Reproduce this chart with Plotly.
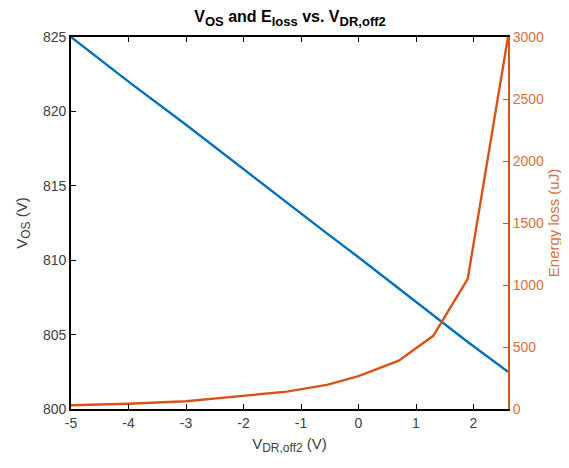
import plotly.graph_objects as go

# Data
v_dr = [-5, -4, -3, -2, -1.25, -0.55, 0.0, 0.7, 1.3, 1.9, 2.6]
v_os = [825.0, 822.0, 819.1, 816.1, 813.9, 811.8, 810.2, 808.1, 806.3, 804.5, 802.5]
e_loss = [30, 42, 62, 105, 140, 195, 265, 390, 590, 1050, 3000]

x_ticks = [-5, -4, -3, -2, -1, 0, 1, 2]
x_tick_labels = ["-5", "-4", "-3", "-2", "-1", "0", "1", "2"]
y1_ticks = [800, 805, 810, 815, 820, 825]
y2_ticks = [0, 500, 1000, 1500, 2000, 2500, 3000]

BLUE = "#0072BD"
ORANGE = "#D95319"
ORANGE_TXT = "#D9703F"
GREY = "#404040"
FONT = "Liberation Sans, Arial, sans-serif"


def sub(t, size):
    return "<sub><span style='font-size:%dpx'>%s</span></sub>" % (size, t)


fig = go.Figure()
fig.add_trace(go.Scatter(x=v_dr, y=v_os, mode="lines", line=dict(color=BLUE, width=2.4),
                         yaxis="y", showlegend=False))
fig.add_trace(go.Scatter(x=v_dr, y=e_loss, mode="lines", line=dict(color=ORANGE, width=2.4),
                         yaxis="y2", showlegend=False))

# the page body adds an 8px offset at top/left, so the figure is 8px smaller
fig.update_layout(
    width=561, height=460,
    margin=dict(l=63, r=61, t=29, b=59, autoexpand=False),
    paper_bgcolor="white", plot_bgcolor="white",
    font=dict(family=FONT, size=14, color=GREY),
    title=dict(text="<b>V" + sub("OS", 13) + " and E" + sub("loss", 13) + " vs. V" + sub("DR,off2", 13) + "</b>",
               x=282 / 561, xref="container", xanchor="center", y=0.993, yanchor="top",
               font=dict(family=FONT, size=16, color="black")),
    xaxis=dict(range=[-5, 2.6], tickvals=x_ticks, ticktext=x_tick_labels, showgrid=False, zeroline=False,
               showline=True, linecolor="black", linewidth=1.8, mirror="ticks",
               ticks="inside", ticklen=5, tickwidth=1.3, tickcolor="black", automargin=False,
               title=dict(text="V" + sub("DR,off2", 12) + " (V)", standoff=9, font=dict(size=15, color=GREY)),
               tickfont=dict(size=14, color=GREY)),
    yaxis=dict(range=[800, 825], tickvals=y1_ticks, showgrid=False, zeroline=False,
               showline=True, linecolor="black", linewidth=1.8,
               ticks="inside", ticklen=5, tickwidth=1.3, tickcolor="black", automargin=False,
               title=dict(text="V" + sub("OS", 12) + " (V)", standoff=12, font=dict(size=15, color=GREY)),
               tickfont=dict(size=14, color=GREY)),
    yaxis2=dict(range=[0, 3000], tickvals=y2_ticks, overlaying="y", side="right",
                showgrid=False, zeroline=False,
                showline=True, linecolor=ORANGE, linewidth=1.8,
                ticks="inside", ticklen=5, tickwidth=1.3, tickcolor=ORANGE, automargin=False,
                title=dict(text="Energy loss (uJ)", standoff=5, font=dict(size=15, color=ORANGE_TXT)),
                tickfont=dict(size=14, color=ORANGE_TXT)),
)

fig.write_html("out.html")
